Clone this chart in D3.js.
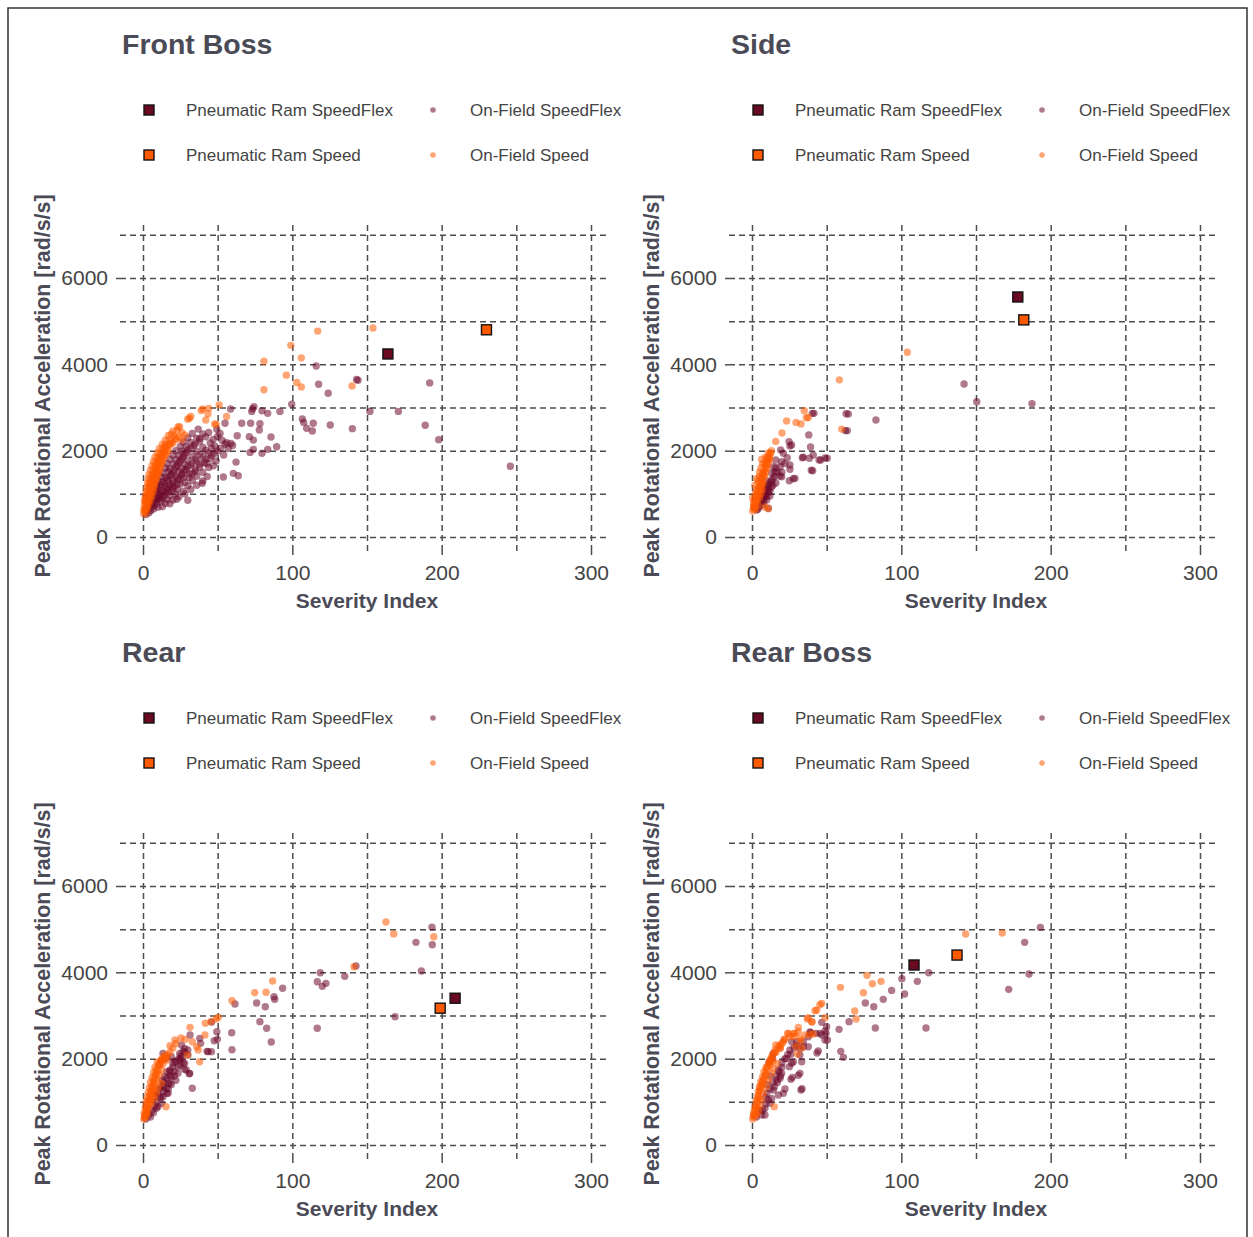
<!DOCTYPE html>
<html><head><meta charset="utf-8">
<script src="https://cdn.jsdelivr.net/npm/d3@7"></script>
<style>
html,body{margin:0;padding:0;background:#fff;}
svg{display:block;font-family:"Liberation Sans",Arial,sans-serif;}
</style></head><body>
<svg id="c" width="1253" height="1237"></svg>
<script>
// ---------- DATA ----------
const panelTitles = ["Front Boss", "Side", "Rear", "Rear Boss"];
const seriesNames = ["Pneumatic Ram SpeedFlex", "On-Field SpeedFlex", "Pneumatic Ram Speed", "On-Field Speed"];
const xTickValues = [0, 100, 200, 300];
const xGridValues = [0, 50, 100, 150, 200, 250, 300];
const yTickValues = [0, 2000, 4000, 6000];
const yGridValues = [0, 1000, 2000, 3000, 4000, 5000, 6000, 7000];
const xTitle = "Severity Index";
const yTitle = "Peak Rotational Acceleration [rad/s/s]";

// Pneumatic ram points [severity index, peak rotational acceleration]
const ramSpeedFlex = [[164, 4240], [178, 5560], [209, 3400], [108.5, 4170]];
const ramSpeed = [[230, 4800], [182, 5030], [199, 3170], [137.3, 4400]];

// Front Boss on-field
const fbFieldSpeedFlex = [
[116,3960],[117.6,3540],[124,3330],[143,3650],[144,3630],[192,3570],[152,2910],[171,2910],[189,2590],[198,2255],[246,1640],
[99.6,3075],[106.7,2735],[107.6,2655],[109.6,2520],[113.4,2455],[114,2635],[125.4,2595],[140.2,2510],[91.7,2910],[83.5,2865],
[79.7,2925],[74.3,3020],[72.8,2910],[73.4,2970],[78.3,2625],[72.1,2635],[77.9,2480],[71.2,2325],[73.9,2245],[85.7,2315],
[89.5,2090],[83.5,2030],[79.7,1940],[73.9,2030],[71.7,1960],[63.8,1420],[60.5,1475],[53.8,1390],[62.3,1735],[58.7,2965],
[54.9,2635],[49.4,2495],[51.6,2400],[56,2185],[58.9,2170],[63.1,2345],[66.1,2635],[39.7,1245],[22.6,875],[42.7,1705],[47.1,1650],
[2,520],[4,560],[3,640],[5,610],[7,650],[4,720],[6,700],[8,740],[10,690],[5,800],[7,820],[9,790],[12,830],[15,780],
[6,900],[8,880],[10,920],[13,900],[16,870],[20,860],[7,990],[9,1010],[12,980],[15,1020],[18,960],[22,1000],
[8,1090],[10,1120],[13,1080],[16,1110],[19,1070],[23,1100],[27,1060],[9,1190],[12,1220],[15,1180],[18,1210],[21,1170],[25,1230],[30,1190],
[10,1300],[13,1280],[17,1320],[20,1290],[24,1330],[28,1270],[33,1310],[12,1400],[15,1380],[18,1420],[22,1390],[26,1430],[31,1380],[36,1410],
[13,1490],[17,1520],[20,1480],[24,1510],[28,1530],[33,1470],[40,1500],[15,1600],[18,1580],[22,1620],[26,1590],[30,1630],[35,1570],[44,1610],
[16,1700],[20,1690],[24,1720],[28,1680],[33,1710],[38,1690],[18,1800],[22,1790],[26,1820],[30,1780],[35,1810],[42,1800],
[20,1900],[24,1890],[28,1920],[33,1880],[38,1910],[46,1890],[22,2000],[26,1990],[30,2020],[36,1980],[42,2010],[50,1990],
[25,2100],[29,2090],[34,2120],[40,2080],[48,2110],[27,2200],[32,2190],[38,2220],[45,2180],[30,2300],[36,2290],[42,2320],[33,2400],[40,2390],[37,2500],
[6,760],[9,860],[11,960],[14,1060],[17,1160],[20,1240],[23,1350],[26,1460],[29,1560],[32,1660],[36,1760],[40,1860],[44,1950],
[11,880],[14,950],[17,1040],[20,1130],[23,1220],[27,1370],[31,1460],[35,1520],[38,1620],[41,1720],[45,1820],[48,1940],[52,2060],[55,2150],
[9,1050],[11,1150],[14,1250],[16,1350],[19,1450],[21,1550],[23,1650],[25,1760],[27,1860],[29,1960],[32,2050],[35,2150],[38,2280],[44,2420],
[47,2260],[50,2330],[53,2240],[46,2060],[54,1900],[57,2050],[60,2120],[49,1760],[24,930],[28,1000],[32,1100],[36,1200],[40,1300],[43,1400],
[30,850],[18,770],[13,700]
];
const fbFieldSpeed = [
[117,4770],[154,4840],[99,4440],[106,4150],[81,4070],[96,3750],[103,3580],[106,3475],[81,3410],[140,3500],[51,3060],[44,2980],
[39,2930],[40,2965],[43.5,2850],[56,2790],[31,2750],[32,2790],[42,2710],[30,2730],[24.5,2555],[49,2610],[48,2620],[23.4,2548],
[28,2365],[22,2290],[26,2250],[18,2130],[20,2170],[14.5,2090],
[0.5,540],[2,560],[0.5,650],[1.5,640],[3,660],[1,750],[2.5,740],[4,760],[1,850],[2,840],[3.5,860],[5,850],[1.5,950],[3,940],[4.5,960],[6,950],
[2,1050],[3.5,1040],[5,1060],[7,1050],[2.5,1150],[4,1140],[5.5,1160],[7.5,1150],[3,1250],[4.5,1240],[6,1260],[8,1250],[3.5,1350],[5,1340],[7,1360],[9,1350],
[4,1450],[6,1440],[8,1460],[10,1450],[5,1550],[7,1540],[9,1560],[11,1550],[6,1650],[8,1640],[10,1660],[12,1650],[7,1750],[9,1740],[11,1760],[13,1750],
[8,1850],[10,1840],[12,1860],[14,1850],[9.5,1950],[11.5,1940],[14,1960],[16,1950],[11,2050],[13,2040],[15.5,2060],[13,2150],[15,2140],[18,2160],
[15,2250],[17.5,2240],[22,2260],[17,2350],[21,2340],[20,2450],
[1,600],[2.5,700],[1.5,800],[3,800],[2.5,900],[4,900],[3,1000],[5,1000],[4,1100],[6,1100],[4.5,1200],[7,1200],[5.5,1300],[8,1300],
[6.5,1400],[9,1400],[7.5,1500],[10,1500],[8.5,1600],[11,1600],[9.5,1700],[12,1700],[10.5,1800],[13,1800],[12,1900],[15,1900],
[14,2000],[17,2000],[16,2100],[19,2200],[24,2320],[26,2420],[23,2480],[19,2380]
];

// Side on-field
const sdFieldSpeedFlex = [
[142,3545],[150.5,3135],[187.5,3090],[40.4,2865],[41.5,2865],[64.5,2850],[63,2855],[83,2710],[62.5,2465],[63.8,2460],[38,2365],
[24.8,2210],[25.4,2110],[26.5,2130],[39.2,2085],[41,1900],[38.4,1823],[33.7,1837],[44.9,1784],[48.9,1830],[50.4,1823],[46,1784],
[34.4,1846],[39.7,1545],[40.6,1536],[19.2,2015],[21,1939],[23.6,1837],[25.4,1568],[25.4,1668],[18.8,1413],[25,1304],[27.6,1350],
[28.8,1359],[15.9,1784],[18.8,1629],[19.9,1745],[13.2,1476],[14.3,1629],[15.4,1513],[19.9,1397],[9.8,1165],[10.9,1049],[7.6,1089],
[8.7,934],[9.8,857],[10.9,665],[3.1,625],[7.6,935],[9,1000],[11,1100],[8,1165],[6,800],[5,700],[7,750],[12,1250],[10,1300],
[13,1150],[14,1350],[16,1250],[12,950],[4,650],[8,820],
[8,1000],[10,950],[9,1080],[11,1200],[7,900],[12,1050],[6,850],[13,1300],[15,1400],[17,1500],[16,1600],[20,1500],[22,1700],[14,1200]
];
const sdFieldSpeed = [
[104,4280],[58.5,3640],[35,2925],[36.4,2765],[37.7,2770],[23.2,2690],[29.5,2655],[32.8,2620],[20.1,2410],[15.9,2215],[60.1,2500],
[12.1,1940],[10.2,1825],[8.7,1705],[8.7,695],[11,655],
[12.5,1940],[11.6,1820],[9.8,1705],[9.4,1590],[7.6,1475],[6.5,1320],[5.4,1165],[4.2,1010],[3.1,855],[2,700],[1,650],[1.5,750],
[2,850],[3,950],[3.5,1050],[4.5,1150],[5,1250],[6,1350],[7,1450],[8,1550],[9,1650],[10,1750],[11,1850],[0.5,600],[2.5,650],
[4,750],[5,900],[6,1000],[7,1100],[7.5,1250],[8.5,1400],[3,1100],[2,1000],[1,800],[4,1300],[1,700],[0.5,900],[2,1200],[3,1350],
[5,1500],[6,1600],[7,1700],[9,1850],[11,1950],[13,2000],[6.5,1800],[5,1400],
[1.5,700],[2.5,800],[3.5,900],[4.5,1000],[5.5,1100],[6.5,1200],[7,1300],[8,1450],[9,1500],[10,1600],[11,1700],[12,1800]
];

// Rear on-field
const rrFieldSpeedFlex = [
[193.5,5043],[182.8,4695],[193.7,4640],[186.4,4031],[168.8,2973],[142.6,4146],[118.7,3992],[116.7,3783],[120.1,3675],[122.5,3745],
[135.1,3907],[116.7,2703],[93.5,3630],[87.7,3435],[88.2,3374],[76.1,3289],[81.9,3204],[78.3,2857],[82.8,2703],[85.9,2386],
[61.6,3266],[59.4,2602],[59.6,2208],[49.4,2625],[49.8,2448],[47.7,2416],[42.9,2170],[46,2849],[31.5,2548],[25.2,2062],[24.8,1969],
[31,1652],[33,1313],[27,1893],[27.7,1753],[23.6,1814],[19.9,1893],[18.1,1737],[17,1429],[15.9,1197],[13.6,1351],[13.4,2123],
[15.6,2008],[19,2046],[21.2,1930],[24.6,2123],[26.8,2162],[25.7,2008],[27.9,1892],[30.1,2085],[31.3,1660],[29,1737],[23.4,1660],
[19,1583],[17.9,1428],[15.6,1313],[13.4,1120],[11.2,1120],[12.3,965],[10,888],[7.8,1197],[14.5,1583],[16.8,1197],[43.5,2162],
[45.8,2162],[38,2471],[38.6,2355],[25.7,2316],[27.9,2239],[2,600],[4,700],[6,800],[8,900],[9,1000],[11,1300],[13,1500],[16,1700],
[21,1700],[22,1500],[18,1600],
[8,1100],[10,1200],[12,1350],[14,1450],[16,1550],[18,1700],[20,1800],[22,1950],[24,2000],[28,2150],[30,2200],[12,1100],[14,1250],
[17,1300],[19,1400],[21,1600],[25,1850],[9,850],[7,750],[5,650]
];
const rrFieldSpeed = [
[162.7,5165],[167.9,4890],[194.7,4825],[141.3,4130],[86.8,3800],[74.8,3530],[82.4,3537],[59.6,3343],[50.4,2958],[48.9,2919],
[41.7,2819],[45.5,2857],[31.5,2726],[25.4,2479],[28.3,2448],[21.4,2432],[18.1,2300],[33,2393],[36,2277],[37,2200],[41.5,2548],
[38,1930],[29.7,2085],[15.9,1969],[12.5,1969],[11.4,1892],[15.4,887],
[1.1,695],[2.2,811],[3.3,926],[3.8,1042],[5.1,1158],[6,1274],[6.7,1390],[7.8,1505],[8.9,1621],[10,1737],[11.2,1853],[12.7,1969],
[14.5,2046],[16.7,2085],[5.6,965],[7.8,1081],[8.9,1197],[10,1313],[12.3,1428],[0.5,600],[0.8,750],[1.5,870],[2,1000],[2.8,1100],
[3.5,1220],[4.3,1330],[5,1450],[6,1560],[7,1680],[8,1800],[9.5,1920],[1.5,650],[3,760],[4,880],[5,1020],[6,1130],[7,1250],[8,1370],
[9.5,1500],[11,1620],[12.5,1740],[13.5,1880],[14,1980],[2.5,700],
[1,650],[2,750],[2.5,850],[3,950],[4,1050],[4.5,1150],[5.5,1250],[6,1350],[7,1450],[7.5,1550],[8.5,1650],[9,1750],[10.5,1850],
[11.5,1950],[13,2020],[15,2080],[18,2150],[20,2250],[22,2350]
];

// Rear Boss on-field
const rbFieldSpeedFlex = [
[193.1,5041],[182.6,4695],[185.5,3962],[171.9,3606],[118.3,3992],[110.7,3791],[100.4,3853],[102.2,3497],[93.5,3582],[87.9,3374],
[81.5,3204],[75.9,3289],[116.5,2710],[82.6,2710],[65,2857],[58.3,2679],[48.9,2641],[48.9,2432],[45.5,2587],[38.8,2618],[59.4,2170],
[61.2,2031],[43.5,2131],[31,1613],[32.8,1274],[26.1,1521],[46.7,2841],[50,2741],[49.6,2587],[46.7,2548],[42.9,2587],[50.5,2432],
[39.3,2602],[37.7,2509],[34.4,2393],[29.9,2393],[26.6,2393],[25.4,2200],[34.4,2277],[37.7,2277],[32.1,2239],[44.4,2177],[32.1,2085],
[33.3,1930],[26.6,1892],[25,1815],[27.7,1930],[32.1,1660],[27,1567],[19.9,1660],[18.8,1544],[17.7,1737],[33.5,1304],[22.1,1297],
[21,1197],[17.7,1158],[14.3,1274],[13.2,1081],[12.1,965],[8.7,849],[6.5,695],[8.7,695],[16.6,1505],[14.3,2123],[13.8,2008],[11.6,1930],
[10,1400],[12,1600],[9,1100],[5,800],[3,650],[20,1800],[22,2000],[24,2100],
[10,1200],[12,1300],[14,1450],[16,1600],[18,1700],[20,1900],[23,2000],[26,2100],[28,2250],[30,2300],[15,1350],[17,1450],[19,1600],
[11,1050],[7,800],[9,950]
];
const rbFieldSpeed = [
[143.1,4887],[167.6,4910],[77,3930],[80.6,3737],[86.4,3791],[59.2,3652],[74.6,3528],[68.8,3103],[69.7,2918],[45.5,3250],[42.2,3110],
[48.9,2950],[37,2918],[40.2,2849],[31,2726],[23.9,2586],[27.7,2586],[21.4,2447],[15.9,2316],[18.8,2239],[15.4,2146],[14.9,887],
[33.5,2247],[30.4,2108],[29.5,2285],[38.8,2556],[41,2570],[32.6,2417],[46.7,3281],[43.3,3127],[40,2857],[37.7,2949],
[0.9,656],[1.3,772],[2,888],[2.7,1004],[3.6,1119],[4.2,1235],[4.9,1351],[5.8,1467],[7.1,1583],[8,1699],[9.4,1799],[11,1892],
[12.1,1969],[13.2,2046],[15.4,2200],[17.7,2277],[18.8,2316],[21,2393],[24.3,2586],[25.4,2509],[28.8,2586],[31,2625],[27.7,2509],
[32.1,2470],[35.5,2548],[6.5,1042],[7.6,1197],[9.4,1351],[11,1505],[13.2,1660],[14.3,1776],[16.6,1892],[5.4,888],[4.2,772],
[3.1,695],[0.5,600],[1.5,700],[2.5,850],[3.5,950],[4.5,1080],[5.5,1300],[6.5,1400],[7.5,1500],[9,1620],[10,1750],[12,1850],[14,1950],
[1,700],[2,800],[3,900],[3.5,1050],[4.5,1150],[5,1250],[6,1350],[7,1450],[8,1550],[9,1650],[10,1800],[11.5,1900],[13,2000],
[14,2100],[16,2150],[19,2250],[20,2350],[22,2450]
];

const fieldSpeedFlex = [fbFieldSpeedFlex, sdFieldSpeedFlex, rrFieldSpeedFlex, rbFieldSpeedFlex];
const fieldSpeed = [fbFieldSpeed, sdFieldSpeed, rrFieldSpeed, rbFieldSpeed];

// ---------- STYLE / LAYOUT ----------
const C = {
  ramFlex: "#6a0a22", ramSpeed: "#ff5a00",
  fieldFlex: "#6e0a2c", fieldSpeed: "#ff5a00",
  grid: "#4d4d4d", text: "#444", title: "#4b4b57"
};
const offsets = [[0,0],[609,0],[0,608],[609,608]];
const svg = d3.select("#c");

svg.append("path").attr("d","M8,1240V8H1247V1240").attr("fill","none").attr("stroke","#333").attr("stroke-width",1.5);

panelTitles.forEach((title, i) => {
  const [ox, oy] = offsets[i];
  const g = svg.append("g");
  const x = d3.scaleLinear().domain([0, 300]).range([143 + ox, 591 + ox]);
  const y = d3.scaleLinear().domain([0, 6000]).range([537 + oy, 278 + oy]);
  const xl = x(-15.4), xr = x(310.7), yt = y(7320), yb = y(-325);

  // title
  g.append("text").attr("x", 122 + ox).attr("y", 54 + oy)
    .attr("font-size", 28.5).attr("font-weight", "bold").attr("fill", C.title).text(title);

  // legend
  const leg = [
    {name: seriesNames[0], type: "sq", fill: C.ramFlex, lx: 149, ly: 110},
    {name: seriesNames[1], type: "ci", fill: C.fieldFlex, lx: 433, ly: 110},
    {name: seriesNames[2], type: "sq", fill: C.ramSpeed, lx: 149, ly: 155},
    {name: seriesNames[3], type: "ci", fill: C.fieldSpeed, lx: 433, ly: 155}
  ];
  leg.forEach(l => {
    if (l.type === "sq") {
      g.append("rect").attr("x", l.lx + ox - 5).attr("y", l.ly + oy - 5).attr("width", 10).attr("height", 10)
        .attr("fill", l.fill).attr("stroke", "#111").attr("stroke-width", 1.4);
    } else {
      g.append("circle").attr("cx", l.lx + ox).attr("cy", l.ly + oy).attr("r", 2.8)
        .attr("fill", l.fill).attr("fill-opacity", 0.55);
    }
    g.append("text").attr("x", l.lx + 37 + ox).attr("y", l.ly + oy + 6)
      .attr("font-size", 17).attr("fill", C.text).text(l.name);
  });

  // grid
  const gy = g.append("g").attr("transform", `translate(${xl},0)`)
    .call(d3.axisLeft(y).tickValues(yGridValues).tickSize(-(xr - xl)).tickFormat(""));
  const gx = g.append("g").attr("transform", `translate(0,${yb})`)
    .call(d3.axisBottom(x).tickValues(xGridValues).tickSize(-(yb - yt)).tickFormat(""));
  [gy, gx].forEach(a => {
    a.select(".domain").remove();
    a.selectAll("line").attr("stroke", C.grid).attr("stroke-width", 1.5).attr("stroke-dasharray", "6,4");
  });

  // major ticks + labels
  const ay = g.append("g").attr("transform", `translate(${xl},0)`)
    .call(d3.axisLeft(y).tickValues(yTickValues).tickSize(7).tickPadding(5).tickFormat(d3.format("d")));
  const ax = g.append("g").attr("transform", `translate(0,${yb})`)
    .call(d3.axisBottom(x).tickValues(xTickValues).tickSize(6).tickPadding(8).tickFormat(d3.format("d")));
  [ay, ax].forEach(a => {
    a.select(".domain").remove();
    a.selectAll("line").attr("stroke", C.grid).attr("stroke-width", 1.5).attr("stroke-dasharray", "4,3");
    a.selectAll("text").attr("fill", C.text).attr("font-size", 21)
      .attr("font-family", '"Liberation Sans",Arial,sans-serif');
  });

  // axis titles
  g.append("text").attr("x", x(150)).attr("y", 608 + oy).attr("text-anchor", "middle")
    .attr("font-size", 21).attr("font-weight", "bold").attr("fill", C.title).text(xTitle);
  g.append("text").attr("transform", `translate(${50 + ox},${(yt + yb) / 2}) rotate(-90)`)
    .attr("text-anchor", "middle").attr("font-size", 21.4).attr("font-weight", "bold")
    .attr("fill", C.title).text(yTitle);

  // on-field points
  g.append("g").selectAll("circle").data(fieldSpeedFlex[i]).join("circle")
    .attr("cx", d => x(d[0])).attr("cy", d => y(d[1])).attr("r", 3.7)
    .attr("fill", C.fieldFlex).attr("fill-opacity", 0.55);
  g.append("g").selectAll("circle").data(fieldSpeed[i]).join("circle")
    .attr("cx", d => x(d[0])).attr("cy", d => y(d[1])).attr("r", 3.7)
    .attr("fill", C.fieldSpeed).attr("fill-opacity", 0.55);

  // pneumatic ram points
  [[ramSpeedFlex[i], C.ramFlex], [ramSpeed[i], C.ramSpeed]].forEach(([d, col]) => {
    g.append("rect").attr("x", x(d[0]) - 5).attr("y", y(d[1]) - 5).attr("width", 10).attr("height", 10)
      .attr("fill", col).attr("stroke", "#111").attr("stroke-width", 1.4);
  });
});
</script>
</body></html>
